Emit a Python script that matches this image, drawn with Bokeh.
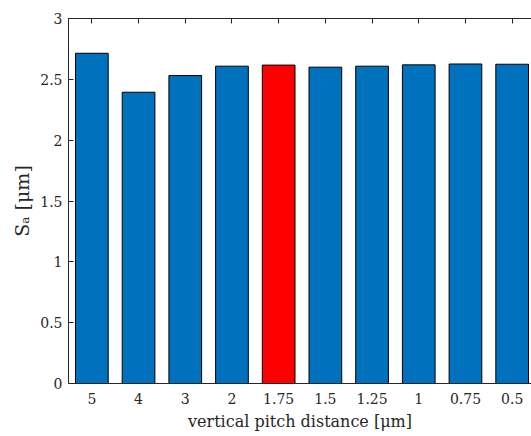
from bokeh.plotting import figure
from bokeh.models import Range1d, FixedTicker, LinearAxis, ColumnDataSource
from bokeh.embed import file_html
from bokeh.resources import INLINE

# data
pitch_labels = ["5", "4", "3", "2", "1.75", "1.5", "1.25", "1", "0.75", "0.5"]
sa_values = [2.714, 2.394, 2.531, 2.608, 2.617, 2.600, 2.608, 2.619, 2.626, 2.624]
bar_colors = ["#0072BD", "#0072BD", "#0072BD", "#0072BD", "#FF0000",
              "#0072BD", "#0072BD", "#0072BD", "#0072BD", "#0072BD"]
y_ticks = [0, 0.5, 1, 1.5, 2, 2.5, 3]
y_tick_labels = ["0", "0.5", "1", "1.5", "2", "2.5", "3"]

pos = list(range(1, len(pitch_labels) + 1))
src = ColumnDataSource(dict(x=pos, top=sa_values, color=bar_colors))

FONT = "DejaVu Serif"
TXT = "#262626"

p = figure(width=531, height=436, output_backend="svg", toolbar_location=None,
           x_range=Range1d(0.5, 10.414), y_range=Range1d(0, 3),
           x_axis_location=None, y_axis_location=None,
           min_border_left=68, min_border_right=0, min_border_top=18,
           min_border_bottom=53)
p.outline_line_color = None
p.grid.visible = False

p.vbar(x="x", top="top", width=0.7, bottom=0, fill_color="color",
       line_color="black", line_width=1, source=src)

xt = FixedTicker(ticks=pos)
yt = FixedTicker(ticks=y_ticks)

def style(ax):
    ax.axis_line_color = TXT
    ax.axis_line_width = 1
    ax.major_tick_line_color = TXT
    ax.minor_tick_line_color = None
    ax.major_label_text_font = FONT
    ax.major_label_text_font_size = "14px"
    ax.major_label_text_color = TXT
    ax.axis_label_text_font = FONT
    ax.axis_label_text_font_size = "16px"
    ax.axis_label_text_font_style = "normal"
    ax.axis_label_text_color = TXT

bottom = LinearAxis(ticker=xt, major_label_overrides={i: l for i, l in zip(pos, pitch_labels)},
                    axis_label="vertical pitch distance [μm]")
style(bottom)
bottom.major_tick_in = 0
bottom.major_tick_out = 0
bottom.major_label_standoff = 9
bottom.axis_label_standoff = 5
p.add_layout(bottom, "below")

left = LinearAxis(ticker=yt, major_label_overrides={v: l for v, l in zip(y_ticks, y_tick_labels)},
                  axis_label="Sₐ [μm]")
style(left)
left.major_tick_in = 5
left.major_tick_out = 0
left.major_label_standoff = 6
left.axis_label_standoff = 4
left.axis_label_text_font_size = "19px"
p.add_layout(left, "left")

top = LinearAxis(ticker=xt, major_label_overrides={i: "" for i in pos})
style(top)
top.major_tick_in = 5
top.major_tick_out = 0
top.major_label_standoff = 0
top.major_label_text_font_size = "0px"
p.add_layout(top, "above")

open("out.html", "w").write(file_html(p, INLINE))
